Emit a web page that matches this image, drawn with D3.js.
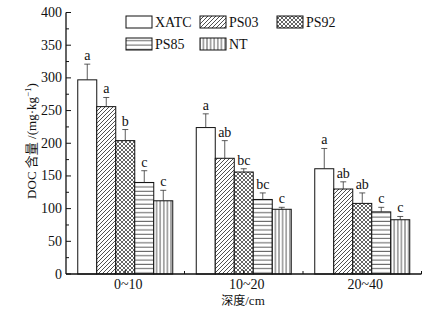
<!DOCTYPE html>
<html lang="zh">
<head>
<meta charset="UTF-8">
<title>DOC content by depth</title>
<style>
  body { margin: 0; background: #fff; }
  text { font-family: "Liberation Serif", "DejaVu Serif", serif; fill: #111; }
  .cjk { font-family: "Noto Sans CJK SC", sans-serif; }
</style>
</head>
<body>
<script src="https://d3js.org/d3.v7.min.js"></script>
<div id="chart"></div>
<script>
// data
const depths = ["0~10", "10~20", "20~40"];
const treatments = ["XATC", "PS03", "PS92", "PS85", "NT"];
const doc = {
  XATC: [297, 224, 161],
  PS03: [256, 177, 130],
  PS92: [204, 156, 108],
  PS85: [140, 114, 95],
  NT:   [112, 99, 83]
};
const docErr = {
  XATC: [24, 21, 31],
  PS03: [14, 27, 11],
  PS92: [17, 5, 16],
  PS85: [18, 10, 7],
  NT:   [16, 3, 5]
};
const letters = {
  XATC: ["a", "a", "a"],
  PS03: ["a", "ab", "ab"],
  PS92: ["b", "bc", "ab"],
  PS85: ["c", "bc", "c"],
  NT:   ["c", "c", "c"]
};
const yTicks = [0, 50, 100, 150, 200, 250, 300, 350, 400];

const W = 435, H = 316;
const svg = d3.select("#chart").append("svg")
  .attr("width", W).attr("height", H);

// patterns
const defs = svg.append("defs");
function pat(id, w, h, draw) {
  const p = defs.append("pattern").attr("id", id)
    .attr("patternUnits", "userSpaceOnUse").attr("width", w).attr("height", h);
  p.append("rect").attr("width", w).attr("height", h).attr("fill", "#fff");
  draw(p);
}
pat("p-diag", 4, 4, p => {
  p.append("path").attr("d", "M-1,1 l2,-2 M0,4 l4,-4 M3,5 l2,-2")
    .attr("stroke", "#222").attr("stroke-width", 0.8);
});
pat("p-cross", 4, 4, p => {
  p.append("path").attr("d", "M-1,1 l2,-2 M0,4 l4,-4 M3,5 l2,-2 M-1,3 l2,2 M0,0 l4,4 M3,-1 l2,2")
    .attr("stroke", "#222").attr("stroke-width", 0.7);
});
pat("p-horiz", 4, 4.3, p => {
  p.append("line").attr("x1", 0).attr("x2", 4).attr("y1", 2).attr("y2", 2)
    .attr("stroke", "#222").attr("stroke-width", 0.8);
});
pat("p-vert", 3.6, 4, p => {
  p.append("line").attr("x1", 1.8).attr("x2", 1.8).attr("y1", 0).attr("y2", 4)
    .attr("stroke", "#222").attr("stroke-width", 0.8);
});
const fills = {
  XATC: "#fff", PS03: "url(#p-diag)", PS92: "url(#p-cross)",
  PS85: "url(#p-horiz)", NT: "url(#p-vert)"
};

// scales
const x = d3.scaleLinear().domain([0.5, 3.5]).range([66, 421.5]);
const y = d3.scaleLinear().domain([0, 400]).range([274, 12.5]);
const barW = 19;

const plot = svg.append("g");

treatments.forEach((t, ti) => {
  depths.forEach((d, di) => {
    const cx = x(di + 1) + (ti - 2) * barW;
    const v = doc[t][di], e = docErr[t][di];
    plot.append("rect")
      .attr("x", cx - barW / 2).attr("y", y(v))
      .attr("width", barW).attr("height", y(0) - y(v))
      .attr("fill", fills[t]).attr("stroke", "#111").attr("stroke-width", 1);
    // error bar (upper only)
    plot.append("line")
      .attr("x1", cx).attr("x2", cx).attr("y1", y(v)).attr("y2", y(v + e))
      .attr("stroke", "#333").attr("stroke-width", 0.8);
    plot.append("line")
      .attr("x1", cx - 3).attr("x2", cx + 3).attr("y1", y(v + e)).attr("y2", y(v + e))
      .attr("stroke", "#333").attr("stroke-width", 0.8);
    plot.append("text")
      .attr("x", cx).attr("y", y(v + e) - 4)
      .attr("text-anchor", "middle").attr("font-size", 14)
      .text(letters[t][di]);
  });
});

// axes
const ax = svg.append("g").attr("stroke", "#111");
ax.append("line").attr("x1", x(0.5)).attr("x2", x(0.5)).attr("y1", y(400)).attr("y2", y(0))
  .attr("stroke-width", 1.3);
ax.append("line").attr("x1", x(0.5)).attr("x2", x(3.5)).attr("y1", y(0)).attr("y2", y(0))
  .attr("stroke-width", 1.3);

const yAxis = svg.append("g");
yTicks.forEach(v => {
  yAxis.append("line").attr("x1", x(0.5)).attr("x2", x(0.5) + 5)
    .attr("y1", y(v)).attr("y2", y(v)).attr("stroke", "#111");
  yAxis.append("text").attr("x", x(0.5) - 4).attr("y", y(v) + 4.5)
    .attr("text-anchor", "end").attr("font-size", 14).text(v);
});
d3.range(25, 400, 50).forEach(v => {
  yAxis.append("line").attr("x1", x(0.5)).attr("x2", x(0.5) + 3)
    .attr("y1", y(v)).attr("y2", y(v)).attr("stroke", "#111");
});

const xAxis = svg.append("g");
depths.forEach((d, i) => {
  xAxis.append("line").attr("x1", x(i + 1)).attr("x2", x(i + 1))
    .attr("y1", y(0)).attr("y2", y(0) - 4).attr("stroke", "#111");
  xAxis.append("text").attr("x", x(i + 1) + 3).attr("y", y(0) + 15)
    .attr("text-anchor", "middle").attr("font-size", 14).text(d);
});
[1.5, 2.5, 3.5].forEach(v => {
  xAxis.append("line").attr("x1", x(v)).attr("x2", x(v))
    .attr("y1", y(0)).attr("y2", y(0) - 3).attr("stroke", "#111");
});

// axis titles
svg.append("text").attr("x", 243).attr("y", 305)
  .attr("text-anchor", "middle").attr("font-size", 13)
  .html('<tspan class="cjk" font-size="12">深度</tspan>/cm');

svg.append("text")
  .attr("transform", "translate(36,141) rotate(-90)")
  .attr("text-anchor", "middle").attr("font-size", 13)
  .html('DOC <tspan class="cjk">含量</tspan> /(mg·kg<tspan baseline-shift="super" font-size="9">−1</tspan>)');

// legend
const legendPos = [[126, 16], [200, 16], [277, 16], [126, 38], [200, 38]];
treatments.forEach((t, i) => {
  const [lx, ly] = legendPos[i];
  svg.append("rect").attr("x", lx).attr("y", ly).attr("width", 26).attr("height", 12)
    .attr("fill", fills[t]).attr("stroke", "#111").attr("stroke-width", 1);
  svg.append("text").attr("x", lx + 29).attr("y", ly + 11)
    .attr("font-size", 14).text(t);
});
</script>
</body>
</html>
